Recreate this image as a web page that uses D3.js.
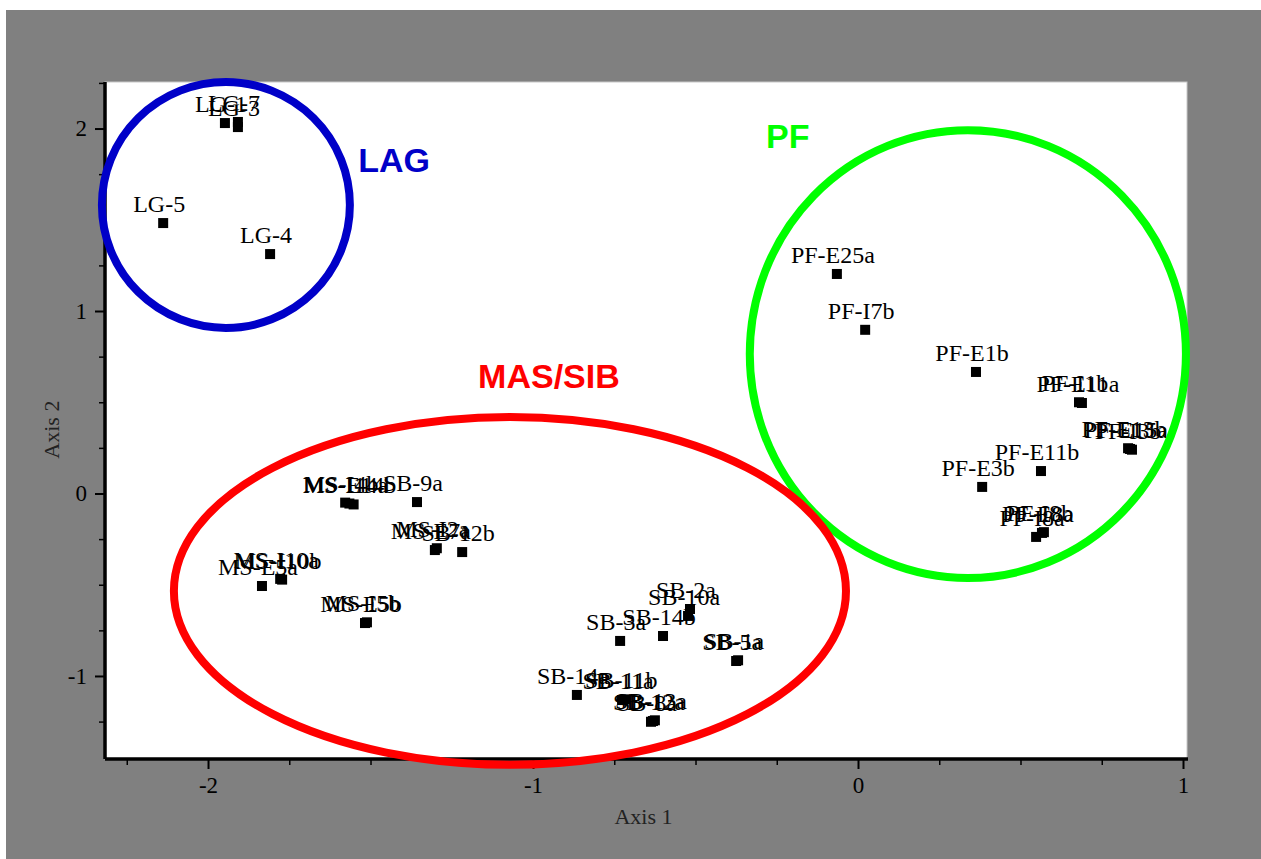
<!DOCTYPE html>
<html>
<head>
<meta charset="utf-8">
<script src="https://cdn.jsdelivr.net/npm/d3@7"></script>
<style>
  body { margin: 0; background: #fff; }
  text { font-family: "Liberation Serif", "Times New Roman", serif; }
</style>
</head>
<body>
<svg id="chart" width="1261" height="859"></svg>
<script>
// point names and coordinates (Axis 1, Axis 2)
const ptNames = [
  "LG-5", "LG-4", "LG-1", "LG-7", "LG-3",
  "MS-I14a", "MS-E14b", "MS-I4b", "SB-9a", "MS-E7a", "MS-I2a", "SB-12b",
  "MS-E5a", "MS-I10a", "MS-I10b", "MS-E5b", "MS-I5b",
  "SB-3a", "SB-14b", "SB-2a", "SB-10a", "SB-5a", "SB-1a", "SB-14a",
  "SB-11a", "SB-11b", "SB-12a", "SB-13a", "SB-8a",
  "PF-E25a", "PF-I7b", "PF-E1b", "PF-E11a", "PF-I1b", "PF-E15a", "PF-E13b",
  "PF-I3b", "PF-E11b", "PF-E3b", "PF-E8a", "PF-I8b", "PF-I8a"
];
const ptX = [
  -2.138, -1.809, -1.948, -1.908, -1.908,
  -1.565, -1.552, -1.578, -1.357, -1.302, -1.296, -1.218,
  -1.834, -1.778, -1.772, -1.517, -1.511,
  -0.732, -0.600, -0.517, -0.523, -0.375, -0.369, -0.865,
  -0.726, -0.716, -0.631, -0.625, -0.637,
  -0.065, 0.022, 0.363, 0.689, 0.680, 0.837, 0.831,
  0.843, 0.563, 0.382, 0.566, 0.572, 0.548
];
const ptY = [
  1.482, 1.312, 2.030, 2.036, 2.008,
  -0.055, -0.060, -0.050, -0.047, -0.310, -0.300, -0.321,
  -0.507, -0.468, -0.472, -0.710, -0.706,
  -0.808, -0.781, -0.633, -0.671, -0.918, -0.914, -1.104,
  -1.132, -1.128, -1.247, -1.243, -1.251,
  1.203, 0.897, 0.666, 0.496, 0.500, 0.244, 0.248,
  0.240, 0.123, 0.036, -0.216, -0.212, -0.238
];

// group ellipses (data units)
const groupNames = ["LAG", "PF", "MAS/SIB"];
const groupColors = ["#0000c8", "#00ff00", "#ff0000"];
const groupCx = [-1.945, 0.338, -1.071];
const groupCy = [1.581, 0.764, -0.534];
const groupRx = [0.3815, 0.671, 1.034];
const groupRy = [0.674, 1.227, 0.953];
const groupLabelX = [-1.538, -0.283, -1.169];
const groupLabelY = [1.761, 1.893, 0.578];

const xMajor = [-2, -1, 0, 1];
const yMajor = [-1, 0, 1, 2];

const svg = d3.select("#chart");
const plotL = 105, plotR = 1187, plotT = 82, plotB = 759;

const x = d3.scaleLinear().domain([-2.317, 1.0123]).range([plotL, plotR]);
const y = d3.scaleLinear().domain([-1.455, 2.255]).range([plotB, plotT]);

// backgrounds
svg.append("rect").attr("x", 6).attr("y", 10)
  .attr("width", 1261 - 6).attr("height", 859 - 10).attr("fill", "#808080");
svg.append("rect").attr("x", plotL).attr("y", plotT)
  .attr("width", plotR - plotL).attr("height", plotB - plotT)
  .attr("fill", "#fff").attr("stroke", "#c8c8c8").attr("stroke-width", 1);

// minor ticks
const xMinor = d3.range(-2.25, 1.01, 0.25).filter(v => !xMajor.includes(Math.round(v * 100) / 100));
const yMinor = d3.range(-1.25, 2.26, 0.25).filter(v => !yMajor.includes(Math.round(v * 100) / 100));

svg.append("g").attr("transform", `translate(0,${plotB})`)
  .call(d3.axisBottom(x).tickValues(xMinor).tickSize(6).tickFormat(""))
  .call(g => g.select(".domain").remove())
  .selectAll("line").attr("stroke-width", 1.5);
svg.append("g").attr("transform", `translate(${plotL},0)`)
  .call(d3.axisLeft(y).tickValues(yMinor).tickSize(6).tickFormat(""))
  .call(g => g.select(".domain").remove())
  .selectAll("line").attr("stroke-width", 1.5);

// major ticks
const xAxis = svg.append("g").attr("transform", `translate(0,${plotB})`)
  .call(d3.axisBottom(x).tickValues(xMajor).tickSize(10).tickPadding(8).tickFormat(d => String(d)));
xAxis.select(".domain").remove();
xAxis.selectAll("line").attr("stroke-width", 2);
xAxis.selectAll("text").attr("font-size", 23).style("font-family", "Liberation Serif").attr("fill", "#000");

const yAxis = svg.append("g").attr("transform", `translate(${plotL},0)`)
  .call(d3.axisLeft(y).tickValues(yMajor).tickSize(10).tickPadding(8).tickFormat(d => String(d)));
yAxis.select(".domain").remove();
yAxis.selectAll("line").attr("stroke-width", 2);
yAxis.selectAll("text").attr("font-size", 23).style("font-family", "Liberation Serif").attr("fill", "#000");

// axis lines
svg.append("line").attr("x1", plotL).attr("x2", plotR + 1).attr("y1", plotB).attr("y2", plotB)
  .attr("stroke", "#000").attr("stroke-width", 3.5);
svg.append("line").attr("x1", plotL).attr("x2", plotL).attr("y1", plotT).attr("y2", plotB)
  .attr("stroke", "#000").attr("stroke-width", 3.5);

// axis titles
svg.append("text").attr("x", x(-0.66)).attr("y", 824).attr("text-anchor", "middle")
  .attr("font-size", 22).attr("fill", "#222").text("Axis 1");
svg.append("text").attr("transform", `translate(59,${y(0.35)}) rotate(-90)`)
  .attr("text-anchor", "middle").attr("font-size", 22).attr("fill", "#222").text("Axis 2");

// points
const pts = ptNames.map((n, i) => ({ name: n, x: ptX[i], y: ptY[i] }));
svg.append("g").selectAll("rect").data(pts).enter().append("rect")
  .attr("x", d => x(d.x) - 5).attr("y", d => y(d.y) - 5)
  .attr("width", 10).attr("height", 10).attr("fill", "#000");
svg.append("g").selectAll("text").data(pts).enter().append("text")
  .attr("x", d => x(d.x) - 4).attr("y", d => y(d.y) - 11)
  .attr("text-anchor", "middle").attr("font-size", 24).attr("fill", "#000")
  .text(d => d.name);

// group ellipses
const groups = groupNames.map((n, i) => ({
  name: n, color: groupColors[i], cx: groupCx[i], cy: groupCy[i],
  rx: groupRx[i], ry: groupRy[i], lx: groupLabelX[i], ly: groupLabelY[i]
}));
svg.append("g").selectAll("ellipse").data(groups).enter().append("ellipse")
  .attr("cx", d => x(d.cx)).attr("cy", d => y(d.cy))
  .attr("rx", d => x(d.cx + d.rx) - x(d.cx)).attr("ry", d => y(d.cy) - y(d.cy + d.ry))
  .attr("fill", "none").attr("stroke", d => d.color).attr("stroke-width", 8);
svg.append("g").selectAll("text").data(groups).enter().append("text")
  .attr("x", d => x(d.lx)).attr("y", d => y(d.ly))
  .style("font-family", "'Liberation Sans', Arial, sans-serif").attr("font-weight", "bold")
  .attr("font-size", 34).attr("fill", d => d.color)
  .text(d => d.name);
</script>
</body>
</html>
